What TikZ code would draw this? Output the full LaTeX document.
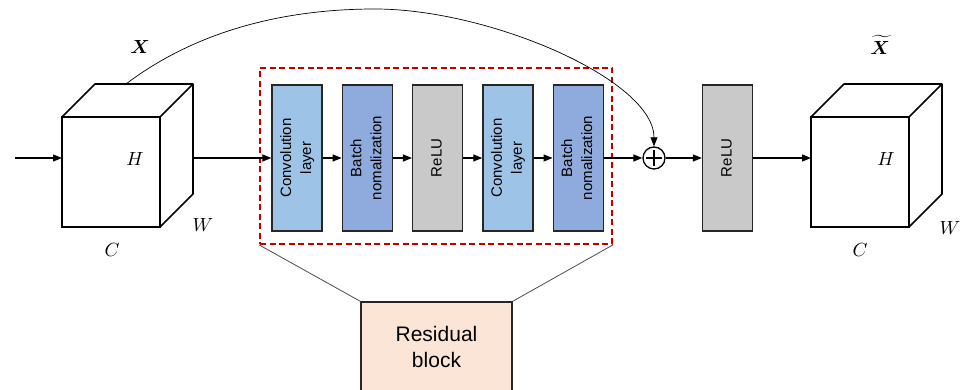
\documentclass[tikz,border=0pt]{standalone}
\usepackage{amsmath,bm}
\usepackage{fontspec}
\setsansfont{Liberation Sans}
\usetikzlibrary{positioning,arrows.meta}
\definecolor{convblue}{HTML}{9DC3E6}
\definecolor{bnblue}{HTML}{8FAADC}
\definecolor{relugray}{HTML}{C9C9C9}
\definecolor{resfill}{HTML}{FBE5D6}
\definecolor{resred}{HTML}{C00000}
\newcommand{\vtext}[1]{\rotatebox{90}{\begin{tabular}{@{}c@{}}#1\end{tabular}}}
\begin{document}
\begin{tikzpicture}[x=1pt,y=1pt,>={Triangle[length=9pt,width=7pt]},node distance=19pt,
  lyr/.style={draw=black!85,line width=1.3pt,minimum width=50pt,minimum height=146pt,inner sep=0pt,font=\sffamily\fontsize{15}{20}\selectfont},
  face/.style={draw,line width=1.6pt,minimum width=98pt,minimum height=110pt,inner sep=0pt,outer sep=0pt},
  lbl/.style={scale=1.9}]
  \useasboundingbox (0,0) rectangle (963,390);
  % residual block frame
  \node[draw=resred,dash pattern=on 6pt off 3.5pt,line width=1.8pt,minimum width=352pt,minimum height=176pt,inner sep=0pt](blk) at (436,234){};
  \node[lyr,fill=convblue](conv1) at (297,232){\vtext{Convolution\\layer}};
  \node[lyr,fill=bnblue,right=of conv1](bn1){\vtext{Batch\\nomalization}};
  \node[lyr,fill=relugray,right=of bn1](relu1){\vtext{ReLU}};
  \node[lyr,fill=convblue,right=of relu1](conv2){\vtext{Convolution\\layer}};
  \node[lyr,fill=bnblue,right=of conv2](bn2){\vtext{Batch\\nomalization}};
  \node[draw,circle,line width=1.3pt,minimum size=22pt,inner sep=0pt](add) at (654,232){};
  \draw[line width=2.4pt] (add.center) ++(0,-8) -- ++(0,16) (add.center) ++(-8,0) -- ++(16,0);
  \node[lyr,fill=relugray](relu2) at (727.5,232){\vtext{ReLU}};
  \node[draw=black!85,line width=1.3pt,fill=resfill,minimum width=151pt,minimum height=90pt,align=center,
    font=\sffamily\fontsize{21}{26}\selectfont](res) at (436.5,43){Residual\\block};
  \draw[black!70,line width=0.8pt] (blk.south west) -- (res.north west) (blk.south east) -- (res.north east);
  % input and output tensors
  \node[face](cubeIn) at (111,218){};
  \draw[line width=1.6pt,line join=round] (cubeIn.north west) -- ++(33,33) -- ++(98,0) coordinate (inBR) -- ++(0,-110) -- (cubeIn.south east)
    (cubeIn.north east) -- ++(33,33);
  \node[face](cubeOut) at (860,218){};
  \draw[line width=1.6pt,line join=round] (cubeOut.north west) -- ++(33,33) -- ++(98,0) -- ++(0,-110) -- (cubeOut.south east)
    (cubeOut.north east) -- ++(33,33);
  \node[lbl](xIn) at (140,343){$\bm{X}$};
  \node[lbl](hIn) at (135,231){$H$};
  \node[lbl](wIn) at (203,165){$W$};
  \node[lbl](cIn) at (112,140){$C$};
  \node[lbl](xOut) at (880,345){$\widetilde{\bm{X}}$};
  \node[lbl](hOut) at (886,231){$H$};
  \node[lbl](wOut) at (950,162){$W$};
  \node[lbl](cOut) at (860,140){$C$};
  % connectors
  \coordinate (src) at (15,232);
  \coordinate (skip) at (126,306);
  \begin{scope}[line width=1.2pt]
    \draw[->] (src) -- (src -| cubeIn.west);
    \draw[->] (inBR |- conv1.west) -- (conv1.west);
    \foreach \a/\b in {conv1/bn1,bn1/relu1,relu1/conv2,conv2/bn2,bn2/add,add/relu2}
      \draw[->] (\a) -- (\b);
    \draw[->] (relu2.east) -- (relu2.east -| cubeOut.west);
  \end{scope}
  \draw[->,line width=0.7pt] (skip) .. controls (200,362) and (290,381) .. (375,381)
    .. controls (490,381) and (654,310) .. (add.north);
\end{tikzpicture}
\end{document}
